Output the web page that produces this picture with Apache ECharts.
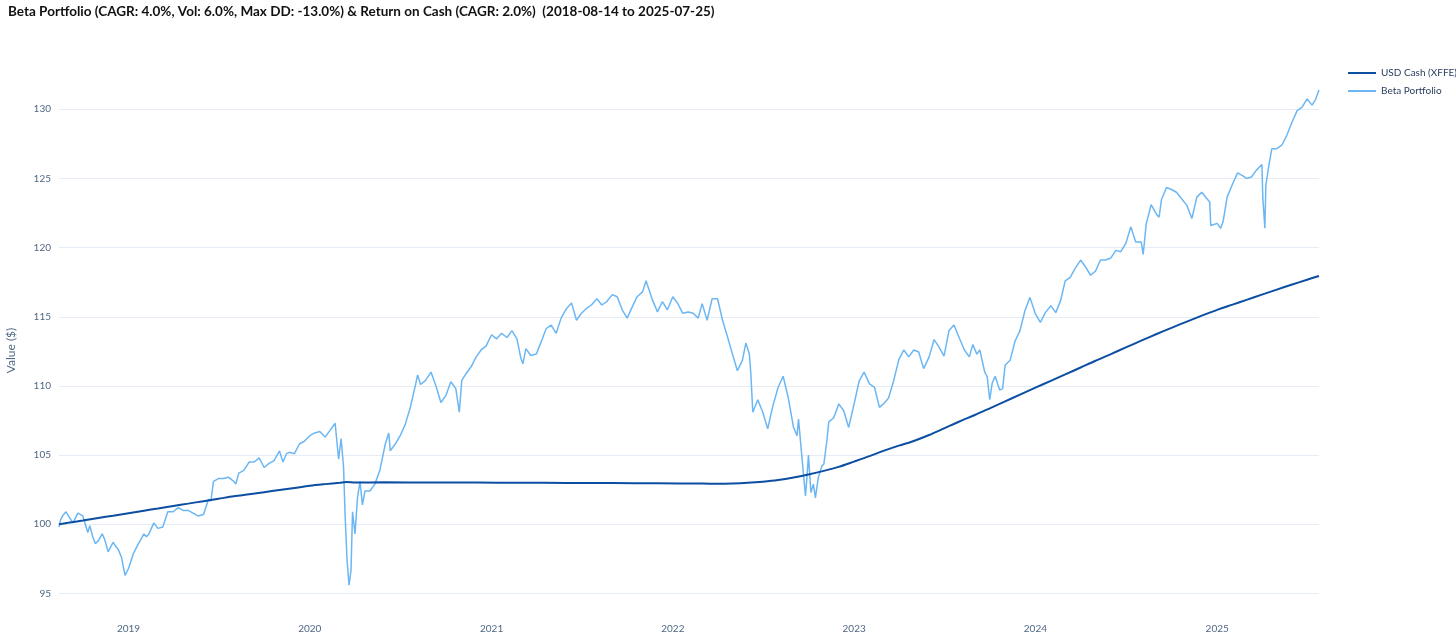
<!DOCTYPE html>
<html>
<head>
<meta charset="utf-8">
<title>Beta Portfolio vs Cash</title>
<script src="https://cdn.jsdelivr.net/npm/echarts@6/dist/echarts.min.js"></script>
<style>
  html, body { margin: 0; padding: 0; background: #fff; }
  #chart { width: 1456px; height: 638px; }
</style>
</head>
<body>
<div id="chart"></div>
<script>
  'use strict'

  /*-----data-----*/
  var seriesNames = ['USD Cash (XFFE)', 'Beta Portfolio'];
  var yearTicks = [2019, 2020, 2021, 2022, 2023, 2024, 2025];
  var valueTicks = [95, 100, 105, 110, 115, 120, 125, 130];
  var dateRange = ['2018-08-14', '2025-07-25'];

  var cash2018 = [['2018-08-14',100.00],['2018-09-01',100.10],['2018-10-01',100.27],['2018-11-01',100.45],['2018-12-01',100.62]];
  var cash2019 = [['2019-01-01',100.80],['2019-02-01',100.98],['2019-03-01',101.14],['2019-04-01',101.32],['2019-05-01',101.49],
    ['2019-06-01',101.67],['2019-07-01',101.84],['2019-08-01',102.02],['2019-09-01',102.17],['2019-10-01',102.32],
    ['2019-11-01',102.47],['2019-12-01',102.62]];
  var cash2020 = [['2020-01-01',102.78],['2020-02-01',102.90],['2020-03-01',103.00],['2020-03-15',103.06],['2020-04-01',103.02],
    ['2020-06-01',103.03],['2020-09-01',103.02],['2020-12-01',103.01]];
  var cash2021 = [['2021-03-01',103.00],['2021-06-01',102.99],['2021-09-01',102.98],['2021-12-01',102.96]];
  var cash2022 = [['2022-03-01',102.94],['2022-04-01',102.93],['2022-05-01',102.95],['2022-06-01',103.00],['2022-07-01',103.08],
    ['2022-08-01',103.20],['2022-09-01',103.38],['2022-10-01',103.60],['2022-11-01',103.86],['2022-12-01',104.15]];
  var cash2023 = [['2023-01-01',104.53],['2023-02-01',104.92],['2023-03-01',105.30],['2023-04-01',105.68],['2023-05-01',106.02],
    ['2023-06-01',106.45],['2023-07-01',106.93],['2023-08-01',107.43],['2023-09-01',107.90],['2023-10-01',108.38],
    ['2023-11-01',108.88],['2023-12-01',109.37]];
  var cash2024 = [['2024-01-01',109.87],['2024-02-01',110.37],['2024-03-01',110.83],['2024-04-01',111.33],['2024-05-01',111.82],
    ['2024-06-01',112.30],['2024-07-01',112.78],['2024-08-01',113.27],['2024-09-01',113.75],['2024-10-01',114.20],
    ['2024-11-01',114.65],['2024-12-01',115.08]];
  var cash2025 = [['2025-01-01',115.50],['2025-02-01',115.88],['2025-03-01',116.22],['2025-04-01',116.60],['2025-05-01',116.96],
    ['2025-06-01',117.33],['2025-07-01',117.68],['2025-07-25',117.95]];

  var beta2018 = [['2018-08-14',99.8],['2018-08-17',100.3],['2018-08-21',100.6],['2018-08-28',100.9],['2018-09-04',100.5],
    ['2018-09-11',100.1],['2018-09-21',100.8],['2018-10-01',100.6],['2018-10-11',99.4],['2018-10-15',99.9],
    ['2018-10-21',99.1],['2018-10-26',98.6],['2018-11-01',98.8],['2018-11-09',99.3],['2018-11-14',98.9],
    ['2018-11-21',98.0],['2018-12-01',98.7],['2018-12-06',98.4],['2018-12-11',98.2],['2018-12-18',97.6],
    ['2018-12-21',97.0],['2018-12-25',96.3]];
  var beta2019 = [['2019-01-01',96.8],['2019-01-11',97.9],['2019-01-21',98.6],['2019-02-01',99.3],['2019-02-06',99.1],
    ['2019-02-11',99.3],['2019-02-21',100.1],['2019-03-01',99.7],['2019-03-11',99.8],['2019-03-21',100.9],
    ['2019-04-01',100.9],['2019-04-11',101.2],['2019-04-21',101.0],['2019-05-01',101.0],['2019-05-11',100.8],
    ['2019-05-21',100.6],['2019-06-01',100.7],['2019-06-11',101.8],['2019-06-16',101.7],['2019-06-21',103.1],
    ['2019-07-01',103.3],['2019-07-11',103.3],['2019-07-21',103.4],['2019-08-01',103.1],['2019-08-05',102.9],
    ['2019-08-11',103.7],['2019-08-21',103.9],['2019-09-01',104.5],['2019-09-11',104.5],['2019-09-21',104.8],
    ['2019-10-01',104.1],['2019-10-11',104.4],['2019-10-21',104.6],['2019-11-01',105.3],['2019-11-08',104.5],
    ['2019-11-15',105.1],['2019-11-21',105.2],['2019-12-01',105.1],['2019-12-11',105.8],['2019-12-21',106.0]];
  var beta2020 = [['2020-01-01',106.4],['2020-01-11',106.6],['2020-01-21',106.7],['2020-02-01',106.3],['2020-02-11',106.8],
    ['2020-02-21',107.3],['2020-02-28',104.7],['2020-03-04',106.2],['2020-03-09',104.1],['2020-03-12',100.7],
    ['2020-03-16',97.4],['2020-03-20',95.6],['2020-03-24',96.7],['2020-03-27',100.9],['2020-04-01',99.3],
    ['2020-04-06',101.9],['2020-04-11',103.1],['2020-04-16',101.4],['2020-04-21',102.4],['2020-05-01',102.4],
    ['2020-05-11',102.9],['2020-05-21',103.9],['2020-06-01',105.8],['2020-06-08',106.6],['2020-06-11',105.3],
    ['2020-06-21',105.8],['2020-07-01',106.4],['2020-07-11',107.2],['2020-07-21',108.4],['2020-08-01',110.1],
    ['2020-08-05',110.8],['2020-08-11',110.1],['2020-08-21',110.4],['2020-09-01',111.0],['2020-09-11',110.0],
    ['2020-09-21',108.8],['2020-10-01',109.3],['2020-10-11',110.3],['2020-10-21',109.8],['2020-10-28',108.1],
    ['2020-11-02',110.4],['2020-11-11',110.9],['2020-11-21',111.4],['2020-12-01',112.1],['2020-12-11',112.6],
    ['2020-12-21',112.9]];
  var beta2021 = [['2021-01-01',113.7],['2021-01-11',113.4],['2021-01-21',113.8],['2021-02-01',113.5],['2021-02-11',114.0],
    ['2021-02-21',113.4],['2021-03-01',112.0],['2021-03-05',111.6],['2021-03-11',112.7],['2021-03-21',112.2],
    ['2021-04-01',112.3],['2021-04-11',113.2],['2021-04-21',114.15],['2021-05-01',114.4],['2021-05-11',113.8],
    ['2021-05-21',114.9],['2021-06-01',115.6],['2021-06-11',116.0],['2021-06-21',114.75],['2021-07-01',115.25],
    ['2021-07-11',115.6],['2021-07-21',115.85],['2021-08-01',116.3],['2021-08-11',115.85],['2021-08-21',116.1],
    ['2021-09-01',116.6],['2021-09-11',116.45],['2021-09-21',115.5],['2021-10-01',114.9],['2021-10-11',115.7],
    ['2021-10-21',116.45],['2021-11-01',116.8],['2021-11-08',117.6],['2021-11-21',116.2],['2021-12-01',115.35],
    ['2021-12-11',116.1],['2021-12-21',115.5]];
  var beta2022 = [['2022-01-01',116.45],['2022-01-11',115.95],['2022-01-21',115.25],['2022-02-01',115.35],['2022-02-11',115.25],
    ['2022-02-21',114.9],['2022-03-01',115.95],['2022-03-11',114.75],['2022-03-21',116.3],['2022-04-01',116.3],
    ['2022-04-11',114.75],['2022-04-21',113.55],['2022-05-01',112.3],['2022-05-11',111.1],['2022-05-21',111.85],
    ['2022-05-28',113.1],['2022-06-04',112.3],['2022-06-07',110.9],['2022-06-11',108.1],['2022-06-21',109.0],
    ['2022-07-01',108.1],['2022-07-11',106.9],['2022-07-21',108.5],['2022-08-01',109.9],['2022-08-11',110.7],
    ['2022-08-21',109.2],['2022-09-01',107.0],['2022-09-08',106.4],['2022-09-11',107.6],['2022-09-21',103.6],
    ['2022-09-25',102.05],['2022-09-28',103.4],['2022-10-01',105.0],['2022-10-06',102.3],['2022-10-11',102.9],
    ['2022-10-15',101.9],['2022-10-21',103.4],['2022-10-28',104.2],['2022-11-01',104.35],['2022-11-07',106.0],
    ['2022-11-11',107.4],['2022-11-21',107.7],['2022-12-01',108.7],['2022-12-11',108.2],['2022-12-21',107.0]];
  var beta2023 = [['2023-01-01',108.7],['2023-01-11',110.35],['2023-01-21',111.0],['2023-02-01',110.15],['2023-02-11',109.9],
    ['2023-02-21',108.45],['2023-03-01',108.7],['2023-03-11',109.1],['2023-03-21',110.3],['2023-04-01',111.9],
    ['2023-04-11',112.6],['2023-04-21',112.1],['2023-05-01',112.6],['2023-05-11',112.45],['2023-05-21',111.25],
    ['2023-06-01',112.1],['2023-06-11',113.35],['2023-06-21',112.8],['2023-07-01',112.15],['2023-07-11',114.0],
    ['2023-07-21',114.4],['2023-08-01',113.45],['2023-08-11',112.6],['2023-08-21',112.1],['2023-08-28',113.0],
    ['2023-09-05',112.3],['2023-09-11',112.6],['2023-09-21',111.0],['2023-09-26',110.65],['2023-10-01',109.0],
    ['2023-10-06',110.2],['2023-10-12',110.7],['2023-10-21',109.7],['2023-10-27',109.8],['2023-11-01',111.5],
    ['2023-11-11',111.85],['2023-11-21',113.25],['2023-12-01',114.0],['2023-12-11',115.45],['2023-12-21',116.4]];
  var beta2024 = [['2024-01-01',115.2],['2024-01-11',114.6],['2024-01-21',115.3],['2024-02-01',115.8],['2024-02-11',115.3],
    ['2024-02-21',116.2],['2024-03-01',117.6],['2024-03-11',117.85],['2024-03-21',118.5],['2024-04-01',119.1],
    ['2024-04-11',118.6],['2024-04-21',118.0],['2024-05-01',118.3],['2024-05-11',119.1],['2024-05-21',119.1],
    ['2024-06-01',119.25],['2024-06-11',119.8],['2024-06-21',119.7],['2024-07-01',120.3],['2024-07-11',121.5],
    ['2024-07-21',120.4],['2024-08-01',120.4],['2024-08-05',119.5],['2024-08-11',121.7],['2024-08-21',123.1],
    ['2024-09-01',122.4],['2024-09-06',122.2],['2024-09-11',123.5],['2024-09-21',124.35],['2024-10-01',124.2],
    ['2024-10-11',124.0],['2024-10-21',123.55],['2024-11-01',123.05],['2024-11-11',122.1],['2024-11-21',123.65],
    ['2024-12-01',124.0],['2024-12-11',123.55],['2024-12-17',123.3],['2024-12-19',121.6]];
  var beta2025 = [['2025-01-01',121.75],['2025-01-08',121.4],['2025-01-13',121.9],['2025-01-21',123.65],['2025-02-01',124.6],
    ['2025-02-11',125.4],['2025-02-21',125.2],['2025-03-01',125.0],['2025-03-11',125.1],['2025-03-21',125.6],
    ['2025-04-01',126.0],['2025-04-03',123.5],['2025-04-07',121.4],['2025-04-09',124.5],['2025-04-14',125.7],
    ['2025-04-21',127.15],['2025-05-01',127.15],['2025-05-11',127.4],['2025-05-21',128.1],['2025-06-01',129.1],
    ['2025-06-11',129.9],['2025-06-21',130.15],['2025-07-01',130.75],['2025-07-11',130.3],['2025-07-18',130.7],
    ['2025-07-25',131.4]];

  // date strings -> UTC timestamps, x is drawn on a plain value axis
  function toTime(rows) {
    return rows.map(function (r) { return [Date.parse(r[0]), r[1]]; });
  }
  var cashData = toTime([].concat(cash2018, cash2019, cash2020, cash2021, cash2022, cash2023, cash2024, cash2025));
  var betaData = toTime([].concat(beta2018, beta2019, beta2020, beta2021, beta2022, beta2023, beta2024, beta2025));
  var yearStarts = yearTicks.map(function (y) { return Date.UTC(y, 0, 1); });

  var option = {
    animation: false,
    textStyle: { fontFamily: 'Lato, sans-serif' },
    title: {
      text: 'Beta Portfolio (CAGR: 4.0%, Vol: 6.0%, Max DD: -13.0%) & Return on Cash (CAGR: 2.0%)  (2018-08-14 to 2025-07-25)',
      left: 8,
      top: 5,
      padding: 0,
      textStyle: { fontSize: 13.5, fontWeight: 'bold', color: '#111', fontFamily: 'Lato, sans-serif' }
    },
    legend: {
      orient: 'vertical',
      left: 1348,
      top: 68,
      padding: 0,
      icon: 'rect',
      itemWidth: 28,
      itemHeight: 2,
      itemGap: 8,
      data: seriesNames,
      textStyle: { fontSize: 10, color: '#2a3f5f' }
    },
    grid: { left: 59, right: 137, top: 65, bottom: 28, outerBoundsMode: 'none' },
    xAxis: {
      type: 'value',
      min: Date.parse(dateRange[0]),
      max: Date.parse(dateRange[1]),
      axisLine: { show: false },
      axisTick: { show: false, customValues: yearStarts },
      splitLine: { show: false },
      axisLabel: {
        customValues: yearStarts,
        fontSize: 10,
        color: '#506784',
        margin: 14,
        formatter: function (v) { return String(new Date(v).getUTCFullYear()); }
      }
    },
    yAxis: {
      type: 'value',
      min: 93.8,
      max: 133.2,
      name: 'Value ($)',
      nameLocation: 'middle',
      nameGap: 42,
      nameTextStyle: { fontSize: 12, color: '#506784', padding: [0, 26, 0, 0] },
      axisLine: { show: false },
      axisTick: { show: false, customValues: valueTicks },
      axisLabel: { customValues: valueTicks, fontSize: 10, color: '#506784', margin: 8 },
      splitLine: { show: true, lineStyle: { color: '#e6ecf5', width: 1 } }
    },
    series: [
      {
        name: seriesNames[0],
        type: 'line',
        data: cashData,
        symbol: 'none',
        smooth: 0.3,
        z: 3,
        lineStyle: { width: 2, color: '#0b4ea2' },
        itemStyle: { color: '#0b4ea2' }
      },
      {
        name: seriesNames[1],
        type: 'line',
        data: betaData,
        symbol: 'none',
        z: 2,
        lineStyle: { width: 1.5, color: '#6cb7f3' },
        itemStyle: { color: '#6cb7f3' }
      }
    ]
  };

  var chart = echarts.init(document.getElementById('chart'));
  chart.setOption(option);
</script>
</body>
</html>
